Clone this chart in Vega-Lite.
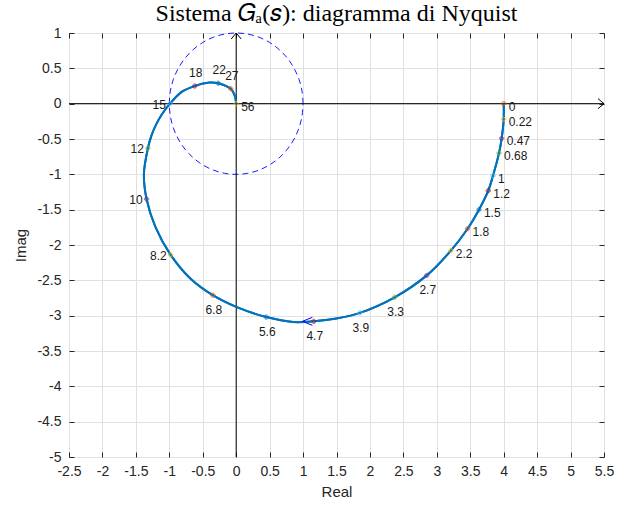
{
  "$schema": "https://vega.github.io/schema/vega-lite/v6.json",
  "width": 535,
  "height": 424,
  "autosize": "none",
  "padding": {"left": 69, "top": 33, "right": 14, "bottom": 49},
  "background": "white",
  "title": {
    "text": "Sistema 𝐺ₐ(𝑠): diagramma di Nyquist",
    "font": "Liberation Serif",
    "fontSize": 24,
    "fontWeight": "normal",
    "color": "#000000",
    "anchor": "middle",
    "offset": 0
  },
  "config": {
    "font": "Liberation Sans",
    "view": {"stroke": "#262626", "strokeWidth": 1},
    "axis": {
      "labelFont": "Liberation Sans",
      "labelFontSize": 14,
      "labelColor": "#262626",
      "titleFont": "Liberation Sans",
      "titleFontSize": 15,
      "titleFontWeight": "normal",
      "titleColor": "#262626",
      "domainColor": "#262626",
      "tickColor": "#262626",
      "gridColor": "#e0e0e0",
      "gridOpacity": 1
    }
  },
  "datasets": {
    "curve": [
      {"i": 1, "re": 4.00, "im": 0.00},
      {"i": 2, "re": 4.00, "im": -0.22},
      {"i": 3, "re": 3.97, "im": -0.49},
      {"i": 4, "re": 3.93, "im": -0.70},
      {"i": 5, "re": 3.84, "im": -1.02},
      {"i": 6, "re": 3.77, "im": -1.23},
      {"i": 7, "re": 3.63, "im": -1.50},
      {"i": 8, "re": 3.46, "im": -1.77},
      {"i": 9, "re": 3.21, "im": -2.08},
      {"i": 10, "re": 2.85, "im": -2.43},
      {"i": 11, "re": 2.37, "im": -2.74},
      {"i": 12, "re": 1.85, "im": -2.96},
      {"i": 13, "re": 1.50, "im": -3.04},
      {"i": 14, "re": 1.16, "im": -3.08},
      {"i": 15, "re": 0.85, "im": -3.09},
      {"i": 16, "re": 0.45, "im": -3.02},
      {"i": 17, "re": 0.01, "im": -2.88},
      {"i": 18, "re": -0.35, "im": -2.71},
      {"i": 19, "re": -0.69, "im": -2.47},
      {"i": 20, "re": -0.98, "im": -2.14},
      {"i": 21, "re": -1.21, "im": -1.74},
      {"i": 22, "re": -1.34, "im": -1.35},
      {"i": 23, "re": -1.38, "im": -1.00},
      {"i": 24, "re": -1.32, "im": -0.63},
      {"i": 25, "re": -1.27, "im": -0.46},
      {"i": 26, "re": -1.20, "im": -0.30},
      {"i": 27, "re": -1.11, "im": -0.15},
      {"i": 28, "re": -0.99, "im": 0.00},
      {"i": 29, "re": -0.81, "im": 0.17},
      {"i": 30, "re": -0.62, "im": 0.25},
      {"i": 31, "re": -0.40, "im": 0.30},
      {"i": 32, "re": -0.27, "im": 0.29},
      {"i": 33, "re": -0.08, "im": 0.21},
      {"i": 34, "re": -0.02, "im": 0.11},
      {"i": 35, "re": 0.00, "im": 0.00}
    ],
    "circle": [
      {"i": 0, "re": 1.000, "im": 0.000},
      {"i": 1, "re": 0.985, "im": 0.174},
      {"i": 2, "re": 0.940, "im": 0.342},
      {"i": 3, "re": 0.866, "im": 0.500},
      {"i": 4, "re": 0.766, "im": 0.643},
      {"i": 5, "re": 0.643, "im": 0.766},
      {"i": 6, "re": 0.500, "im": 0.866},
      {"i": 7, "re": 0.342, "im": 0.940},
      {"i": 8, "re": 0.174, "im": 0.985},
      {"i": 9, "re": 0.000, "im": 1.000},
      {"i": 10, "re": -0.174, "im": 0.985},
      {"i": 11, "re": -0.342, "im": 0.940},
      {"i": 12, "re": -0.500, "im": 0.866},
      {"i": 13, "re": -0.643, "im": 0.766},
      {"i": 14, "re": -0.766, "im": 0.643},
      {"i": 15, "re": -0.866, "im": 0.500},
      {"i": 16, "re": -0.940, "im": 0.342},
      {"i": 17, "re": -0.985, "im": 0.174},
      {"i": 18, "re": -1.000, "im": 0.000},
      {"i": 19, "re": -0.985, "im": -0.174},
      {"i": 20, "re": -0.940, "im": -0.342},
      {"i": 21, "re": -0.866, "im": -0.500},
      {"i": 22, "re": -0.766, "im": -0.643},
      {"i": 23, "re": -0.643, "im": -0.766},
      {"i": 24, "re": -0.500, "im": -0.866},
      {"i": 25, "re": -0.342, "im": -0.940},
      {"i": 26, "re": -0.174, "im": -0.985},
      {"i": 27, "re": 0.000, "im": -1.000},
      {"i": 28, "re": 0.174, "im": -0.985},
      {"i": 29, "re": 0.342, "im": -0.940},
      {"i": 30, "re": 0.500, "im": -0.866},
      {"i": 31, "re": 0.643, "im": -0.766},
      {"i": 32, "re": 0.766, "im": -0.643},
      {"i": 33, "re": 0.866, "im": -0.500},
      {"i": 34, "re": 0.940, "im": -0.342},
      {"i": 35, "re": 0.985, "im": -0.174},
      {"i": 36, "re": 1.000, "im": 0.000}
    ],
    "ticks": [
      {"w": 0, "re": 4.00, "im": 0.00},
      {"w": 0.22, "re": 4.00, "im": -0.22},
      {"w": 0.47, "re": 3.97, "im": -0.49},
      {"w": 0.68, "re": 3.93, "im": -0.70},
      {"w": 1, "re": 3.84, "im": -1.02},
      {"w": 1.2, "re": 3.77, "im": -1.23},
      {"w": 1.5, "re": 3.63, "im": -1.50},
      {"w": 1.8, "re": 3.46, "im": -1.77},
      {"w": 2.2, "re": 3.21, "im": -2.08},
      {"w": 2.7, "re": 2.85, "im": -2.43},
      {"w": 3.3, "re": 2.37, "im": -2.74},
      {"w": 3.9, "re": 1.85, "im": -2.96},
      {"w": 4.7, "re": 1.16, "im": -3.08},
      {"w": 5.6, "re": 0.45, "im": -3.02},
      {"w": 6.8, "re": -0.35, "im": -2.71},
      {"w": 8.2, "re": -0.98, "im": -2.14},
      {"w": 10, "re": -1.34, "im": -1.35},
      {"w": 12, "re": -1.32, "im": -0.63},
      {"w": 15, "re": -0.99, "im": 0.00},
      {"w": 18, "re": -0.62, "im": 0.25},
      {"w": 22, "re": -0.27, "im": 0.29},
      {"w": 27, "re": -0.08, "im": 0.21},
      {"w": 56, "re": 0.00, "im": 0.00}
    ]
  },
  "resolve": {"axis": {"x": "independent", "y": "independent"}},
  "layer": [
    {
      "data": {"name": "curve"},
      "mark": {"type": "line", "color": "#0072BD", "strokeWidth": 2, "interpolate": "catmull-rom"},
      "encoding": {
        "x": {"field": "re", "type": "quantitative", "scale": {"domain": [-2.5, 5.5], "nice": false, "zero": false},
              "axis": {"orient": "bottom", "title": "Real", "grid": true, "values": [-2.5,-2,-1.5,-1,-0.5,0,0.5,1,1.5,2,2.5,3,3.5,4,4.5,5,5.5], "labelExpr": "'' + datum.value", "labelFlush": false, "labelOverlap": false, "tickSize": -5, "labelPadding": 12, "titlePadding": 6, "domain": false}},
        "y": {"field": "im", "type": "quantitative", "scale": {"domain": [-5, 1], "nice": false, "zero": false},
              "axis": {"orient": "left", "title": "Imag", "grid": true, "values": [1,0.5,0,-0.5,-1,-1.5,-2,-2.5,-3,-3.5,-4,-4.5,-5], "labelExpr": "'' + datum.value", "labelFlush": false, "labelOverlap": false, "tickSize": -5, "labelPadding": 13, "titlePadding": 8, "domain": false}},
        "order": {"field": "i", "type": "quantitative"}
      }
    },
    {
      "data": {"name": "circle"},
      "mark": {"type": "line", "color": "#0000ff", "strokeWidth": 0.9, "strokeDash": [6, 4], "interpolate": "catmull-rom"},
      "encoding": {
        "x": {"field": "re", "type": "quantitative",
              "axis": {"orient": "top", "labels": false, "grid": false, "domain": false, "values": [-2.5,-2,-1.5,-1,-0.5,0,0.5,1,1.5,2,2.5,3,3.5,4,4.5,5,5.5], "tickSize": -5, "title": null}},
        "y": {"field": "im", "type": "quantitative",
              "axis": {"orient": "right", "labels": false, "grid": false, "domain": false, "values": [1,0.5,0,-0.5,-1,-1.5,-2,-2.5,-3,-3.5,-4,-4.5,-5], "tickSize": -5, "title": null}},
        "order": {"field": "i", "type": "quantitative"}
      }
    },
    {
      "data": {"values": [{}]},
      "mark": {"type": "rule", "color": "#000000", "strokeWidth": 1},
      "encoding": {"y": {"datum": 0, "type": "quantitative", "axis": null}}
    },
    {
      "data": {"values": [{}]},
      "mark": {"type": "rule", "color": "#000000", "strokeWidth": 1},
      "encoding": {"x": {"datum": 0, "type": "quantitative", "axis": null}}
    },
    {
      "data": {"name": "curve"},
      "mark": {"type": "line", "color": "#0072BD", "strokeWidth": 2, "interpolate": "catmull-rom"},
      "encoding": {
        "x": {"field": "re", "type": "quantitative", "axis": null},
        "y": {"field": "im", "type": "quantitative", "axis": null},
        "order": {"field": "i", "type": "quantitative"}
      }
    },
    {
      "data": {"name": "ticks"},
      "mark": {"type": "point", "shape": "cross", "filled": false, "size": 18, "strokeWidth": 1},
      "encoding": {
        "x": {"field": "re", "type": "quantitative", "axis": null},
        "y": {"field": "im", "type": "quantitative", "axis": null},
        "color": {"field": "w", "type": "nominal", "legend": null,
                  "scale": {"domain": [0,0.22,0.47,0.68,1,1.2,1.5,1.8,2.2,2.7,3.3,3.9,4.7,5.6,6.8,8.2,10,12,15,18,22,27,56],
                            "range": ["#D95319","#EDB120","#7E2F8E","#77AC30","#4DBEEE","#A2142F","#0072BD","#D95319","#EDB120","#7E2F8E","#77AC30","#4DBEEE","#A2142F","#0072BD","#D95319","#EDB120","#7E2F8E","#77AC30","#4DBEEE","#A2142F","#0072BD","#D95319","#EDB120"]}}
      }
    },
    {
      "data": {"name": "ticks"},
      "transform": [{"filter": {"field": "w", "oneOf": [0,0.22,0.47,0.68,1,1.2,1.5,1.8,2.2,56]}}],
      "mark": {"type": "text", "align": "left", "baseline": "middle", "dx": 5, "dy": 3, "fontSize": 12, "font": "Liberation Sans", "color": "#1a1a1a"},
      "encoding": {
        "x": {"field": "re", "type": "quantitative", "axis": null},
        "y": {"field": "im", "type": "quantitative", "axis": null},
        "text": {"field": "w", "type": "quantitative"}
      }
    },
    {
      "data": {"name": "ticks"},
      "transform": [{"filter": {"field": "w", "oneOf": [2.7,3.3,3.9,4.7,5.6,6.8]}}],
      "mark": {"type": "text", "align": "center", "baseline": "middle", "dx": 1, "dy": 15, "fontSize": 12, "font": "Liberation Sans", "color": "#1a1a1a"},
      "encoding": {
        "x": {"field": "re", "type": "quantitative", "axis": null},
        "y": {"field": "im", "type": "quantitative", "axis": null},
        "text": {"field": "w", "type": "quantitative"}
      }
    },
    {
      "data": {"name": "ticks"},
      "transform": [{"filter": {"field": "w", "oneOf": [8.2,10,12,15]}}],
      "mark": {"type": "text", "align": "right", "baseline": "middle", "dx": -4, "dy": 1, "fontSize": 12, "font": "Liberation Sans", "color": "#1a1a1a"},
      "encoding": {
        "x": {"field": "re", "type": "quantitative", "axis": null},
        "y": {"field": "im", "type": "quantitative", "axis": null},
        "text": {"field": "w", "type": "quantitative"}
      }
    },
    {
      "data": {"name": "ticks"},
      "transform": [{"filter": {"field": "w", "oneOf": [18,22,27]}}],
      "mark": {"type": "text", "align": "center", "baseline": "middle", "dx": 1, "dy": -13, "fontSize": 12, "font": "Liberation Sans", "color": "#1a1a1a"},
      "encoding": {
        "x": {"field": "re", "type": "quantitative", "axis": null},
        "y": {"field": "im", "type": "quantitative", "axis": null},
        "text": {"field": "w", "type": "quantitative"}
      }
    },
    {
      "data": {"values": [{}]},
      "mark": {"type": "point", "shape": "M-1.2,-1L0,0L-1.2,1", "filled": false, "size": 100, "stroke": "#000000", "strokeWidth": 1, "opacity": 1},
      "encoding": {"x": {"datum": 5.5, "type": "quantitative", "axis": null}, "y": {"datum": 0, "type": "quantitative", "axis": null}}
    },
    {
      "data": {"values": [{}]},
      "mark": {"type": "point", "shape": "M-1,1.2L0,0L1,1.2", "filled": false, "size": 100, "stroke": "#000000", "strokeWidth": 1, "opacity": 1},
      "encoding": {"x": {"datum": 0, "type": "quantitative", "axis": null}, "y": {"datum": 1, "type": "quantitative", "axis": null}}
    },
    {
      "data": {"values": [{}]},
      "mark": {"type": "point", "shape": "M2,-0.8L0,0L2,0.8", "filled": false, "size": 100, "stroke": "#0000ff", "strokeWidth": 1, "opacity": 1},
      "encoding": {"x": {"datum": 0.99, "type": "quantitative", "axis": null}, "y": {"datum": -3.08, "type": "quantitative", "axis": null}}
    }
  ]
}
